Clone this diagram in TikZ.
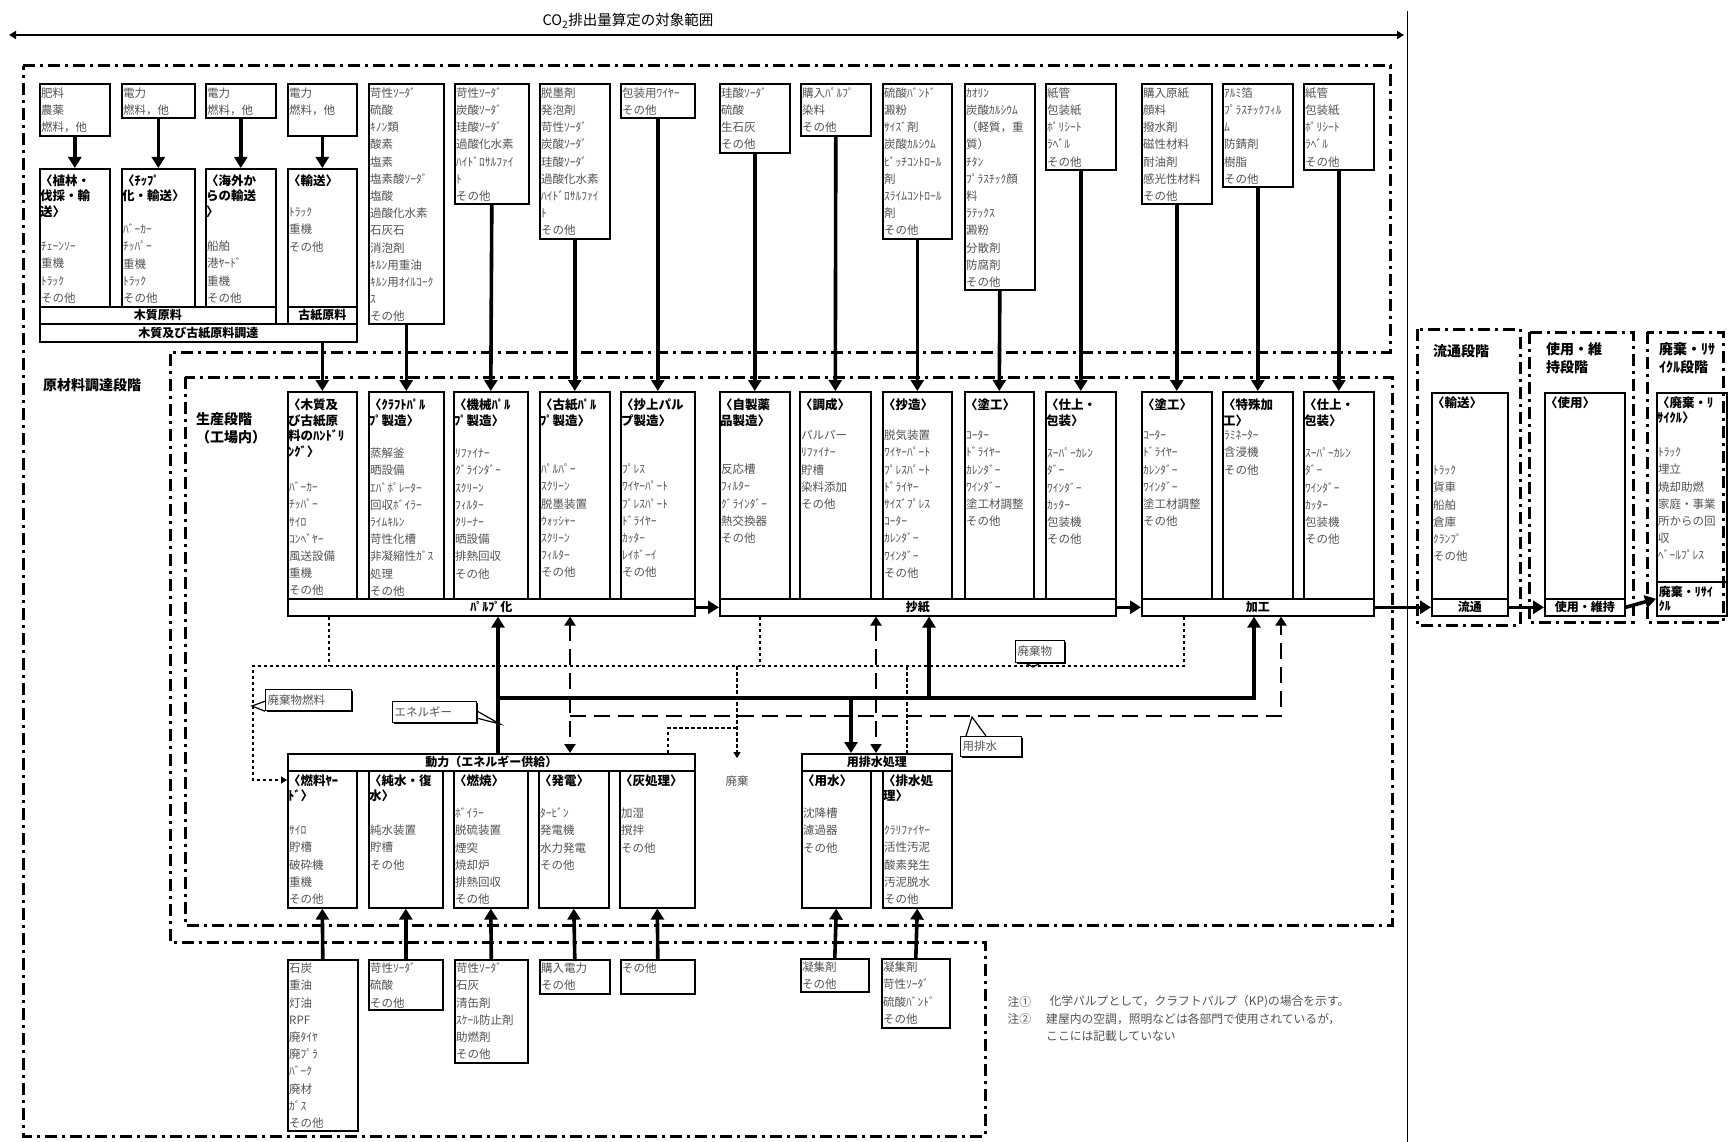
\documentclass[tikz,border=0pt]{standalone}
\usepackage{fontspec}
\setmainfont{Noto Sans CJK JP}
\usetikzlibrary{arrows.meta, calc, shadows}

\definecolor{itemgray}{gray}{0.32}
\newcommand{\itmfont}{\fontsize{11.5}{17.2}\selectfont}
\newcommand{\hdfont}{\bfseries\fontsize{12.5}{15.5}\selectfont}
\newcommand{\barfont}{\bfseries\fontsize{12}{14}\selectfont}
\newcommand{\stgfont}{\bfseries\fontsize{14}{17.5}\selectfont}
\newcommand{\callfont}{\fontsize{11.5}{14}\selectfont}
\newcommand{\notefont}{\fontsize{11.8}{17}\selectfont}

\tikzset{
  box/.style={draw, line width=1.6pt, inner sep=0pt, anchor=north west},
  barbox/.style={box, font=\barfont},
  hd/.style={font=\hdfont, align=left, inner sep=0pt, anchor=north west},
  itm/.style={font=\itmfont, text=itemgray, align=left, inner sep=0pt, anchor=north west},
  stg/.style={font=\stgfont, align=left, inner sep=0pt, anchor=north west},
  stage/.style={line width=3pt, dash pattern=on 12pt off 5pt on 3pt off 5pt},
  feed/.style={line width=3.6pt, -{Triangle[length=11pt,width=13pt]}},
  energy/.style={line width=3.6pt},
  water/.style={line width=2.6pt, dash pattern=on 16pt off 8pt},
  waste/.style={line width=1.2pt, dash pattern=on 3.5pt off 2.5pt},
  callbox/.style={draw, fill=white, line width=1.2pt, font=\callfont, text=itemgray, inner sep=2pt, anchor=north west, align=left,
    drop shadow={shadow xshift=1.5pt, shadow yshift=-1.5pt, fill=black, opacity=1}},
  callln/.style={line width=1.2pt},
  notetxt/.style={font=\notefont, text=itemgray, anchor=west},
  scopearrow/.style={line width=2.6pt, {Triangle[length=7pt,width=8pt]}-{Triangle[length=7pt,width=8pt]}},
}

\begin{document}
\begin{tikzpicture}[x=1pt,y=-1pt]
\useasboundingbox (0,0) rectangle (1729,1142);

% scope of the CO2 count
\node[font=\fontsize{14.5}{16}\selectfont] (co2) at (628,21) {CO\textsubscript{2}排出量算定の対象範囲};
\coordinate (rngl) at (9,35);
\coordinate (rngr) at (1404,35);
\draw[scopearrow] (rngl) -- (rngr);
\coordinate (rngt) at (1407,11);
\coordinate (rngb) at (1407,1142);
\draw[line width=1pt] (rngt) -- (rngb);

% stage frames
\draw[stage] (23,66) -- (1390,66) -- (1390,352) -- (170,352) -- (170,942) -- (985,942) -- (985,1136) -- (23,1136) -- cycle;
\draw[stage] (185,377) rectangle (1392,925);
\draw[stage] (1417,329) rectangle (1520,625);
\draw[stage] (1529,332) rectangle (1633,622);
\draw[stage] (1647,332) rectangle (1723,622);

\node[stg, anchor=west] (rawlbl) at (43,385) {原材料調達段階};
\node[stg] (prodlbl) at (196,412.5) {\strut 生産段階\\（工場内）};
\node[stg] (distlbl) at (1433,344.5) {\strut 流通段階};
\node[stg] (uselbl) at (1546,342.5) {\strut 使用・維\\持段階};
\node[stg] (endlbl) at (1659,342.5) {\strut 廃棄・ﾘｻ\\ｲｸﾙ段階};

% ---- wood and waste paper procurement
\node[box, minimum width=70, minimum height=52] (f1) at (39,83) {};
\node[itm] (f1i) at ([xshift=2pt,yshift=-2pt]f1.north west) {\strut 肥料\\農薬\\燃料，他};
\node[box, minimum width=73, minimum height=34] (f2) at (121,83) {};
\node[itm] (f2i) at ([xshift=2pt,yshift=-2pt]f2.north west) {\strut 電力\\燃料，他};
\node[box, minimum width=70, minimum height=34] (f3) at (205,83) {};
\node[itm] (f3i) at ([xshift=2pt,yshift=-2pt]f3.north west) {\strut 電力\\燃料，他};
\node[box, minimum width=69, minimum height=52] (f4) at (287,83) {};
\node[itm] (f4i) at ([xshift=2pt,yshift=-2pt]f4.north west) {\strut 電力\\燃料，他};

\node[box, minimum width=70, minimum height=138] (u1) at (39,168) {};
\node[hd] (u1h) at ([xshift=1pt,yshift=-6pt]u1.north west) {\strut 〈植林・\\伐採・輸\\送〉};
\node[itm] (u1i) at ([xshift=2pt,yshift=-70.5pt]u1.north west) {\strut ﾁｪｰﾝｿｰ\\重機\\ﾄﾗｯｸ\\その他};
\node[box, minimum width=73, minimum height=138] (u2) at (121,168) {};
\node[hd] (u2h) at ([xshift=1pt,yshift=-6pt]u2.north west) {\strut 〈ﾁｯﾌﾟ\\化・輸送〉};
\node[itm] (u2i) at ([xshift=2pt,yshift=-53.5pt]u2.north west) {\strut ﾊﾞｰｶｰ\\ﾁｯﾊﾟｰ\\重機\\ﾄﾗｯｸ\\その他};
\node[box, minimum width=70, minimum height=138] (u3) at (205,168) {};
\node[hd] (u3h) at ([xshift=1pt,yshift=-6pt]u3.north west) {\strut 〈海外か\\らの輸送\\〉};
\node[itm] (u3i) at ([xshift=2pt,yshift=-70.5pt]u3.north west) {\strut 船舶\\港ﾔｰﾄﾞ\\重機\\その他};
\node[box, minimum width=69, minimum height=138] (u4) at (287,168) {};
\node[hd] (u4h) at ([xshift=1pt,yshift=-6pt]u4.north west) {\strut 〈輸送〉};
\node[itm] (u4i) at ([xshift=2pt,yshift=-36.5pt]u4.north west) {\strut ﾄﾗｯｸ\\重機\\その他};

\node[barbox, minimum width=236, minimum height=17] (b1) at (39,306) {木質原料};
\node[barbox, minimum width=69, minimum height=17] (b2) at (287,306) {古紙原料};
\node[barbox, minimum width=317, minimum height=18] (b3) at (39,323) {木質及び古紙原料調達};

\draw[feed] (f1.south) -- (u1.north);
\draw[feed] (f2.south) -- (u2.north);
\draw[feed] (f3.south) -- (u3.north);
\draw[feed] (f4.south) -- (u4.north);

% ---- materials bought for the mill
\node[box, minimum width=75, minimum height=240] (i2) at (368,83) {};
\node[itm] (i2i) at ([xshift=2pt,yshift=-2pt]i2.north west) {\strut 苛性ｿｰﾀﾞ\\硫酸\\ｷﾉﾝ類\\酸素\\塩素\\塩素酸ｿｰﾀﾞ\\塩酸\\過酸化水素\\石灰石\\消泡剤\\ｷﾙﾝ用重油\\ｷﾙﾝ用ｵｲﾙｺｰｸ\\ｽ\\その他};
\node[box, minimum width=74, minimum height=120] (i3) at (454,83) {};
\node[itm] (i3i) at ([xshift=2pt,yshift=-2pt]i3.north west) {\strut 苛性ｿｰﾀﾞ\\炭酸ｿｰﾀﾞ\\珪酸ｿｰﾀﾞ\\過酸化水素\\ﾊｲﾄﾞﾛｻﾙﾌｧｲ\\ﾄ\\その他};
\node[box, minimum width=70, minimum height=155] (i4) at (539,83) {};
\node[itm] (i4i) at ([xshift=2pt,yshift=-2pt]i4.north west) {\strut 脱墨剤\\発泡剤\\苛性ｿｰﾀﾞ\\炭酸ｿｰﾀﾞ\\珪酸ｿｰﾀﾞ\\過酸化水素\\ﾊｲﾄﾞﾛｻﾙﾌｧｲ\\ﾄ\\その他};
\node[box, minimum width=74, minimum height=34] (i5) at (620,83) {};
\node[itm] (i5i) at ([xshift=2pt,yshift=-2pt]i5.north west) {\strut 包装用ﾜｲﾔｰ\\その他};
\node[box, minimum width=70, minimum height=69] (i6) at (719,83) {};
\node[itm] (i6i) at ([xshift=2pt,yshift=-2pt]i6.north west) {\strut 珪酸ｿｰﾀﾞ\\硫酸\\生石灰\\その他};
\node[box, minimum width=70, minimum height=52] (i7) at (800,83) {};
\node[itm] (i7i) at ([xshift=2pt,yshift=-2pt]i7.north west) {\strut 購入ﾊﾟﾙﾌﾟ\\染料\\その他};
\node[box, minimum width=69, minimum height=155] (i8) at (882,83) {};
\node[itm] (i8i) at ([xshift=2pt,yshift=-2pt]i8.north west) {\strut 硫酸ﾊﾞﾝﾄﾞ\\澱粉\\ｻｲｽﾞ剤\\炭酸ｶﾙｼｳﾑ\\ﾋﾟｯﾁｺﾝﾄﾛｰﾙ\\剤\\ｽﾗｲﾑｺﾝﾄﾛｰﾙ\\剤\\その他};
\node[box, minimum width=70, minimum height=206] (i9) at (964,83) {};
\node[itm] (i9i) at ([xshift=2pt,yshift=-2pt]i9.north west) {\strut ｶｵﾘﾝ\\炭酸ｶﾙｼｳﾑ\\（軽質，重\\質）\\ﾁﾀﾝ\\ﾌﾟﾗｽﾁｯｸ顔\\料\\ﾗﾃｯｸｽ\\澱粉\\分散剤\\防腐剤\\その他};
\node[box, minimum width=70, minimum height=86] (i10) at (1045,83) {};
\node[itm] (i10i) at ([xshift=2pt,yshift=-2pt]i10.north west) {\strut 紙管\\包装紙\\ﾎﾟﾘｼｰﾄ\\ﾗﾍﾞﾙ\\その他};
\node[box, minimum width=70, minimum height=120] (i11) at (1141,83) {};
\node[itm] (i11i) at ([xshift=2pt,yshift=-2pt]i11.north west) {\strut 購入原紙\\顔料\\撥水剤\\磁性材料\\耐油剤\\感光性材料\\その他};
\node[box, minimum width=70, minimum height=103] (i12) at (1222,83) {};
\node[itm] (i12i) at ([xshift=2pt,yshift=-2pt]i12.north west) {\strut ｱﾙﾐ箔\\ﾌﾟﾗｽﾁｯｸﾌｨﾙ\\ﾑ\\防錆剤\\樹脂\\その他};
\node[box, minimum width=70, minimum height=86] (i13) at (1303,83) {};
\node[itm] (i13i) at ([xshift=2pt,yshift=-2pt]i13.north west) {\strut 紙管\\包装紙\\ﾎﾟﾘｼｰﾄ\\ﾗﾍﾞﾙ\\その他};

% ---- production (mill)
\node[box, minimum width=69, minimum height=207] (p1) at (287,391) {};
\node[hd] (p1h) at ([xshift=1pt,yshift=-7.5pt]p1.north west) {\strut 〈木質及\\び古紙原\\料のﾊﾝﾄﾞﾘ\\ﾝｸﾞ〉};
\node[itm] (p1i) at ([xshift=2pt,yshift=-88.5pt]p1.north west) {\strut ﾊﾞｰｶｰ\\ﾁｯﾊﾟｰ\\ｻｲﾛ\\ｺﾝﾍﾞﾔｰ\\風送設備\\重機\\その他};
\node[box, minimum width=75, minimum height=207] (p2) at (368,391) {};
\node[hd] (p2h) at ([xshift=1pt,yshift=-7.5pt]p2.north west) {\strut 〈ｸﾗﾌﾄﾊﾟﾙ\\ﾌﾟ製造〉};
\node[itm] (p2i) at ([xshift=2pt,yshift=-54.5pt]p2.north west) {\strut 蒸解釜\\晒設備\\ｴﾊﾞﾎﾟﾚｰﾀｰ\\回収ﾎﾞｲﾗｰ\\ﾗｲﾑｷﾙﾝ\\苛性化槽\\非凝縮性ｶﾞｽ\\処理\\その他};
\node[box, minimum width=74, minimum height=207] (p3) at (453,391) {};
\node[hd] (p3h) at ([xshift=1pt,yshift=-7.5pt]p3.north west) {\strut 〈機械ﾊﾟﾙ\\ﾌﾟ製造〉};
\node[itm] (p3i) at ([xshift=2pt,yshift=-54.5pt]p3.north west) {\strut ﾘﾌｧｲﾅｰ\\ｸﾞﾗｲﾝﾀﾞｰ\\ｽｸﾘｰﾝ\\ﾌｨﾙﾀｰ\\ｸﾘｰﾅｰ\\晒設備\\排熱回収\\その他};
\node[box, minimum width=70, minimum height=207] (p4) at (539,391) {};
\node[hd] (p4h) at ([xshift=1pt,yshift=-7.5pt]p4.north west) {\strut 〈古紙ﾊﾟﾙ\\ﾌﾟ製造〉};
\node[itm] (p4i) at ([xshift=2pt,yshift=-70.5pt]p4.north west) {\strut ﾊﾟﾙﾊﾟｰ\\ｽｸﾘｰﾝ\\脱墨装置\\ｳｫｯｼｬｰ\\ｽｸﾘｰﾝ\\ﾌｨﾙﾀｰ\\その他};
\node[box, minimum width=74, minimum height=207] (p5) at (620,391) {};
\node[hd] (p5h) at ([xshift=1pt,yshift=-7.5pt]p5.north west) {\strut 〈抄上パル\\プ製造〉};
\node[itm] (p5i) at ([xshift=2pt,yshift=-70.5pt]p5.north west) {\strut ﾌﾟﾚｽ\\ﾜｲﾔｰﾊﾟｰﾄ\\ﾌﾟﾚｽﾊﾟｰﾄ\\ﾄﾞﾗｲﾔｰ\\ｶｯﾀｰ\\ﾚｲﾎﾞｰｲ\\その他};
\node[box, minimum width=70, minimum height=207] (p6) at (719,391) {};
\node[hd] (p6h) at ([xshift=1pt,yshift=-7.5pt]p6.north west) {\strut 〈自製薬\\品製造〉};
\node[itm] (p6i) at ([xshift=2pt,yshift=-70.5pt]p6.north west) {\strut 反応槽\\ﾌｨﾙﾀｰ\\ｸﾞﾗｲﾝﾀﾞｰ\\熱交換器\\その他};
\node[box, minimum width=71, minimum height=207] (p7) at (799,391) {};
\node[hd] (p7h) at ([xshift=1pt,yshift=-7.5pt]p7.north west) {\strut 〈調成〉};
\node[itm] (p7i) at ([xshift=2pt,yshift=-36.5pt]p7.north west) {\strut パルパー\\ﾘﾌｧｲﾅｰ\\貯槽\\染料添加\\その他};
\node[box, minimum width=69, minimum height=207] (p8) at (882,391) {};
\node[hd] (p8h) at ([xshift=1pt,yshift=-7.5pt]p8.north west) {\strut 〈抄造〉};
\node[itm] (p8i) at ([xshift=2pt,yshift=-36.5pt]p8.north west) {\strut 脱気装置\\ﾜｲﾔｰﾊﾟｰﾄ\\ﾌﾟﾚｽﾊﾟｰﾄ\\ﾄﾞﾗｲﾔｰ\\ｻｲｽﾞﾌﾟﾚｽ\\ｺｰﾀｰ\\ｶﾚﾝﾀﾞｰ\\ﾜｲﾝﾀﾞｰ\\その他};
\node[box, minimum width=69, minimum height=207] (p9) at (964,391) {};
\node[hd] (p9h) at ([xshift=1pt,yshift=-7.5pt]p9.north west) {\strut 〈塗工〉};
\node[itm] (p9i) at ([xshift=2pt,yshift=-36.5pt]p9.north west) {\strut ｺｰﾀｰ\\ﾄﾞﾗｲﾔｰ\\ｶﾚﾝﾀﾞｰ\\ﾜｲﾝﾀﾞｰ\\塗工材調整\\その他};
\node[box, minimum width=70, minimum height=207] (p10) at (1045,391) {};
\node[hd] (p10h) at ([xshift=1pt,yshift=-7.5pt]p10.north west) {\strut 〈仕上・\\包装〉};
\node[itm] (p10i) at ([xshift=2pt,yshift=-54.5pt]p10.north west) {\strut ｽｰﾊﾟｰｶﾚﾝ\\ﾀﾞｰ\\ﾜｲﾝﾀﾞｰ\\ｶｯﾀｰ\\包装機\\その他};
\node[box, minimum width=70, minimum height=207] (p11) at (1141,391) {};
\node[hd] (p11h) at ([xshift=1pt,yshift=-7.5pt]p11.north west) {\strut 〈塗工〉};
\node[itm] (p11i) at ([xshift=2pt,yshift=-36.5pt]p11.north west) {\strut ｺｰﾀｰ\\ﾄﾞﾗｲﾔｰ\\ｶﾚﾝﾀﾞｰ\\ﾜｲﾝﾀﾞｰ\\塗工材調整\\その他};
\node[box, minimum width=70, minimum height=207] (p12) at (1222,391) {};
\node[hd] (p12h) at ([xshift=1pt,yshift=-7.5pt]p12.north west) {\strut 〈特殊加\\工〉};
\node[itm] (p12i) at ([xshift=2pt,yshift=-36.5pt]p12.north west) {\strut ﾗﾐﾈｰﾀｰ\\含浸機\\その他};
\node[box, minimum width=70, minimum height=207] (p13) at (1303,391) {};
\node[hd] (p13h) at ([xshift=1pt,yshift=-7.5pt]p13.north west) {\strut 〈仕上・\\包装〉};
\node[itm] (p13i) at ([xshift=2pt,yshift=-54.5pt]p13.north west) {\strut ｽｰﾊﾟｰｶﾚﾝ\\ﾀﾞｰ\\ﾜｲﾝﾀﾞｰ\\ｶｯﾀｰ\\包装機\\その他};

\node[barbox, minimum width=407, minimum height=17] (pulp) at (287,598) {ﾊﾟﾙﾌﾟ化};
\node[barbox, minimum width=396, minimum height=17] (shoshi) at (719,598) {抄紙};
\node[barbox, minimum width=232, minimum height=17] (kako) at (1141,598) {加工};

\draw[feed] (b3.south -| p1.north) -- (p1.north);
\draw[feed] (i2.south) -- (p2.north);
\draw[feed] (i3.south) -- (p3.north);
\draw[feed] (i4.south) -- (p4.north);
\draw[feed] (i5.south) -- (p5.north);
\draw[feed] (i6.south) -- (p6.north);
\draw[feed] (i7.south) -- (p7.north);
\draw[feed] (i8.south) -- (p8.north);
\draw[feed] (i9.south) -- (p9.north);
\draw[feed] (i10.south) -- (p10.north);
\draw[feed] (i11.south) -- (p11.north);
\draw[feed] (i12.south) -- (p12.north);
\draw[feed] (i13.south) -- (p13.north);

% ---- distribution, use, disposal
\node[box, minimum width=76, minimum height=206] (r1) at (1431,392) {};
\node[hd] (r1h) at ([xshift=1pt,yshift=-4pt]r1.north west) {\strut 〈輸送〉};
\node[itm] (r1i) at ([xshift=2pt,yshift=-70.5pt]r1.north west) {\strut ﾄﾗｯｸ\\貨車\\船舶\\倉庫\\ｸﾗﾝﾌﾟ\\その他};
\node[box, minimum width=80, minimum height=206] (r2) at (1544,392) {};
\node[hd] (r2h) at ([xshift=1pt,yshift=-4pt]r2.north west) {\strut 〈使用〉};
\node[box, minimum width=70, minimum height=189] (r3) at (1656,392) {};
\node[hd] (r3h) at ([xshift=1pt,yshift=-4pt]r3.north west) {\strut 〈廃棄・ﾘ\\ｻｲｸﾙ〉};
\node[itm] (r3i) at ([xshift=2pt,yshift=-52.5pt]r3.north west) {\strut ﾄﾗｯｸ\\埋立\\焼却助燃\\家庭・事業\\所からの回\\収\\ﾍﾞｰﾙﾌﾟﾚｽ};

\node[barbox, minimum width=76, minimum height=17] (r1b) at (1431,598) {流通};
\node[barbox, minimum width=80, minimum height=17] (r2b) at (1544,598) {使用・維持};
\node[barbox, minimum width=70, minimum height=34, text width=66pt, align=left, inner xsep=2pt] (r3b) at (1656,581) {廃棄・ﾘｻｲ\\ｸﾙ};

\draw[feed] (pulp.east) -- (shoshi.west);
\draw[feed] (shoshi.east) -- (kako.west);
\draw[feed] (kako.east) -- (r1b.west);
\draw[feed] (r1b.east) -- (r2b.west);
\draw[feed] (r2b.east) -- (r3b.west);

% ---- power and water plants
\node[barbox, minimum width=407, minimum height=17] (dr) at (287,753) {動力（エネルギー供給）};
\node[box, minimum width=69, minimum height=137] (d1) at (287,770) {};
\node[hd] (d1h) at ([xshift=1pt,yshift=-4pt]d1.north west) {\strut 〈燃料ﾔｰ\\ﾄﾞ〉};
\node[itm] (d1i) at ([xshift=2pt,yshift=-52.5pt]d1.north west) {\strut ｻｲﾛ\\貯槽\\破砕機\\重機\\その他};
\node[box, minimum width=74, minimum height=137] (d2) at (368,770) {};
\node[hd] (d2h) at ([xshift=1pt,yshift=-4pt]d2.north west) {\strut 〈純水・復\\水〉};
\node[itm] (d2i) at ([xshift=2pt,yshift=-52.5pt]d2.north west) {\strut 純水装置\\貯槽\\その他};
\node[box, minimum width=74, minimum height=137] (d3) at (453,770) {};
\node[hd] (d3h) at ([xshift=1pt,yshift=-4pt]d3.north west) {\strut 〈燃焼〉};
\node[itm] (d3i) at ([xshift=2pt,yshift=-35.5pt]d3.north west) {\strut ﾎﾞｲﾗｰ\\脱硫装置\\煙突\\焼却炉\\排熱回収\\その他};
\node[box, minimum width=70, minimum height=137] (d4) at (538,770) {};
\node[hd] (d4h) at ([xshift=1pt,yshift=-4pt]d4.north west) {\strut 〈発電〉};
\node[itm] (d4i) at ([xshift=2pt,yshift=-35.5pt]d4.north west) {\strut ﾀｰﾋﾞﾝ\\発電機\\水力発電\\その他};
\node[box, minimum width=75, minimum height=137] (d5) at (619,770) {};
\node[hd] (d5h) at ([xshift=1pt,yshift=-4pt]d5.north west) {\strut 〈灰処理〉};
\node[itm] (d5i) at ([xshift=2pt,yshift=-35.5pt]d5.north west) {\strut 加湿\\撹拌\\その他};

\node[barbox, minimum width=150, minimum height=17] (yh) at (801,753) {用排水処理};
\node[box, minimum width=69, minimum height=137] (y1) at (801,770) {};
\node[hd] (y1h) at ([xshift=1pt,yshift=-4pt]y1.north west) {\strut 〈用水〉};
\node[itm] (y1i) at ([xshift=2pt,yshift=-35.5pt]y1.north west) {\strut 沈降槽\\濾過器\\その他};
\node[box, minimum width=69, minimum height=137] (y2) at (882,770) {};
\node[hd] (y2h) at ([xshift=1pt,yshift=-4pt]y2.north west) {\strut 〈排水処\\理〉};
\node[itm] (y2i) at ([xshift=2pt,yshift=-52.5pt]y2.north west) {\strut ｸﾗﾘﾌｧｲﾔｰ\\活性汚泥\\酸素発生\\汚泥脱水\\その他};

% ---- inputs of the utilities
\node[box, minimum width=70, minimum height=171] (g1) at (287,959) {};
\node[itm] (g1i) at ([xshift=2pt,yshift=-1.5pt]g1.north west) {\strut 石炭\\重油\\灯油\\RPF\\廃ﾀｲﾔ\\廃ﾌﾟﾗ\\ﾊﾞｰｸ\\廃材\\ｶﾞｽ\\その他};
\node[box, minimum width=74, minimum height=50] (g2) at (368,959) {};
\node[itm] (g2i) at ([xshift=2pt,yshift=-1.5pt]g2.north west) {\strut 苛性ｿｰﾀﾞ\\硫酸\\その他};
\node[box, minimum width=73, minimum height=103] (g3) at (454,959) {};
\node[itm] (g3i) at ([xshift=2pt,yshift=-1.5pt]g3.north west) {\strut 苛性ｿｰﾀﾞ\\石灰\\清缶剤\\ｽｹｰﾙ防止剤\\助燃剤\\その他};
\node[box, minimum width=70, minimum height=34] (g4) at (539,959) {};
\node[itm] (g4i) at ([xshift=2pt,yshift=-1.5pt]g4.north west) {\strut 購入電力\\その他};
\node[box, minimum width=74, minimum height=34] (g5) at (620,959) {};
\node[itm] (g5i) at ([xshift=2pt,yshift=-1.5pt]g5.north west) {\strut その他};
\node[box, minimum width=68, minimum height=33] (g6) at (800,958) {};
\node[itm] (g6i) at ([xshift=2pt,yshift=-1.5pt]g6.north west) {\strut 凝集剤\\その他};
\node[box, minimum width=68, minimum height=69] (g7) at (881,958) {};
\node[itm] (g7i) at ([xshift=2pt,yshift=-1.5pt]g7.north west) {\strut 凝集剤\\苛性ｿｰﾀﾞ\\硫酸ﾊﾞﾝﾄﾞ\\その他};

\draw[feed] (g1.north) -- (d1.south);
\draw[feed] (g2.north) -- (d2.south);
\draw[feed] (g3.north) -- (d3.south);
\draw[feed] (g4.north) -- (d4.south);
\draw[feed] (g5.north) -- (d5.south);
\draw[feed] (g6.north) -- (y1.south);
\draw[feed] (g7.north) -- (y2.south);

% ---- energy, water and waste lines
\coordinate (eA) at (498,698);
\coordinate (eB) at (851,698);
\coordinate (eC) at (929,698);
\coordinate (eD) at (1254,698);
\draw[energy, -{Triangle[length=11pt,width=13pt]}] (dr.north -| eA) -- (pulp.south -| eA);
\draw[energy, -{Triangle[length=11pt,width=13pt]}] (eA) -- (eD) -- (kako.south -| eD);
\draw[energy, -{Triangle[length=11pt,width=13pt]}] (eB) -- (yh.north -| eB);
\draw[energy, -{Triangle[length=11pt,width=13pt]}] (eC) -- (shoshi.south -| eC);

\coordinate (wA) at (570,716);
\coordinate (wB) at (876,716);
\coordinate (wC) at (1281,716);
\draw[water, {Triangle[length=9pt,width=11pt]}-{Triangle[length=9pt,width=11pt]}] (pulp.south -| wA) -- (dr.north -| wA);
\draw[water, -{Triangle[length=9pt,width=11pt]}] (wA) -- (wC) -- (kako.south -| wC);
\draw[water, {Triangle[length=9pt,width=11pt]}-{Triangle[length=9pt,width=11pt]}] (shoshi.south -| wB) -- (yh.north -| wB);

\coordinate (wsL) at (253,666);
\coordinate (wsA) at (329,666);
\coordinate (wsB) at (737,666);
\coordinate (wsC) at (760,666);
\coordinate (wsD) at (907,666);
\coordinate (wsE) at (1184,666);
\coordinate (wsG) at (668,728);
\node[font=\callfont, text=itemgray] (haiki) at (737,781) {廃棄};
\draw[waste] (pulp.south -| wsA) -- (wsA);
\draw[waste] (shoshi.south -| wsC) -- (wsC);
\draw[waste, -{Triangle[length=6pt,width=7pt]}] (kako.south -| wsE) -- (wsE) -- (wsL) |- ([yshift=-10pt]d1.north west);
\draw[waste, -{Triangle[length=6pt,width=7pt]}] (wsB) -- ([yshift=14pt]haiki.north);
\draw[waste] (dr.north -| wsG) |- (wsB |- wsG);
\draw[waste] (wsD) -- (yh.north -| wsD);

% ---- callouts
\node[callbox, text width=82pt, minimum height=21pt] (cwf) at (265,689) {廃棄物燃料};
\coordinate (cwfp) at (252,706);
\draw[callln] ([yshift=10pt]cwf.south west) -- (cwfp) -- (cwf.south west);
\node[callbox, text width=80pt, minimum height=21pt] (cen) at (392,701) {エネルギー};
\coordinate (cenp) at (500,724);
\draw[callln] ([yshift=12pt]cen.south east) -- (cenp) -- ([yshift=5pt]cen.south east);
\node[callbox, text width=45pt, minimum height=22pt] (cwa) at (1015,640) {廃棄物};
\coordinate (cwap) at (1033,667);
\draw[callln] ([xshift=11pt]cwa.south west) -- (cwap) -- ([xshift=25pt]cwa.south west);
\node[callbox, text width=57pt, minimum height=20pt] (cyu) at (960,736) {用排水};
\coordinate (cyup) at (972,717);
\draw[callln] ([xshift=6pt]cyu.north west) -- (cyup) -- ([xshift=26pt]cyu.north west);

% ---- notes
\node[notetxt] (n1) at (1004,1002) {注①};
\node[notetxt] (n1t) at (1046,1002) {化学パルプとして，クラフトパルプ（KP)の場合を示す。};
\node[notetxt] (n2) at (1004,1019) {注②};
\node[notetxt, anchor=north west, align=left, inner sep=0pt] (n2t) at (1046,1011) {\strut 建屋内の空調，照明などは各部門で使用されているが，\\ここには記載していない};

\end{tikzpicture}
\end{document}
